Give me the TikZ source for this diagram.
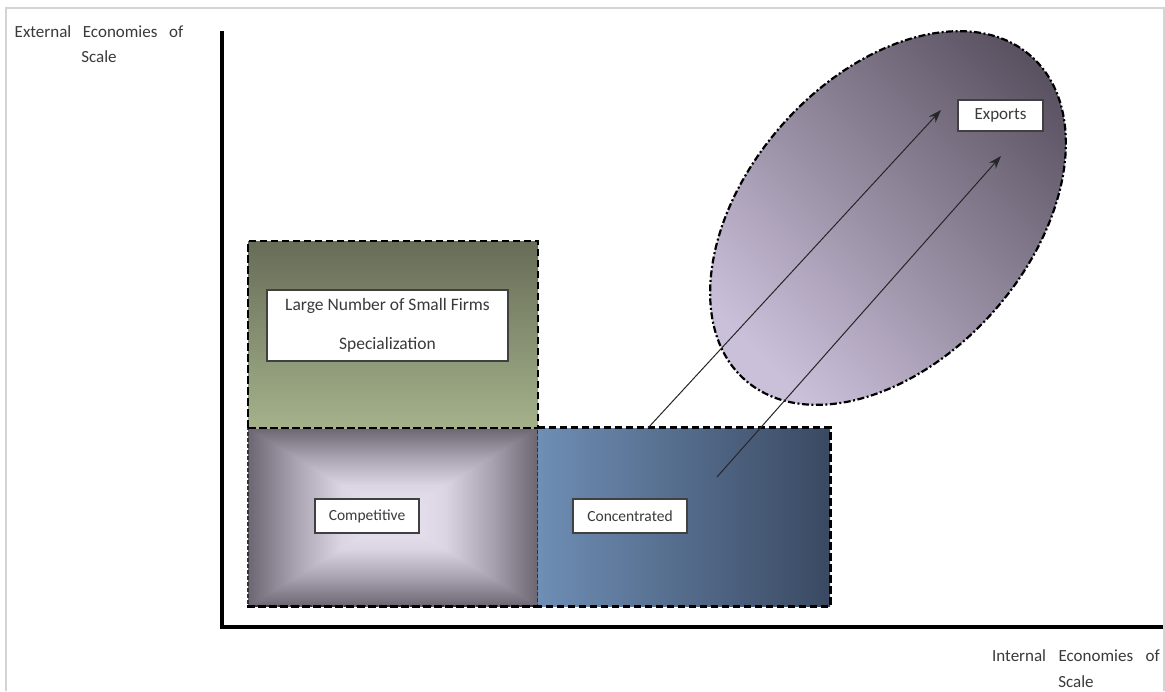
\documentclass[tikz,border=0pt]{standalone}
\usepackage{fontspec}
\setmainfont{Carlito}
\usetikzlibrary{arrows.meta,shapes.geometric}
\definecolor{framegray}{HTML}{D4D4D4}
\definecolor{gtop}{HTML}{676C57}
\definecolor{gbot}{HTML}{A4B28B}
\definecolor{cedge}{HTML}{6C6672}
\definecolor{cmid}{HTML}{A8A1B0}
\definecolor{clight}{HTML}{DAD4E3}
\definecolor{ccenter}{HTML}{EDE8F5}
\definecolor{conleft}{HTML}{6E8EB4}
\definecolor{conright}{HTML}{3A4962}
\definecolor{elight}{HTML}{CBC0DA}
\definecolor{edark}{HTML}{5A5261}
\definecolor{txt}{HTML}{3A3A3A}
\pgfdeclareverticalshading{compv}{100bp}{color(0bp)=(cedge); color(25bp)=(cedge); color(33bp)=(cmid); color(41bp)=(clight); color(50bp)=(ccenter); color(59bp)=(clight); color(67bp)=(cmid); color(75bp)=(cedge); color(100bp)=(cedge)}
\pgfdeclarehorizontalshading{comph}{100bp}{color(0bp)=(cedge); color(25bp)=(cedge); color(33bp)=(cmid); color(41bp)=(clight); color(50bp)=(ccenter); color(59bp)=(clight); color(67bp)=(cmid); color(75bp)=(cedge); color(100bp)=(cedge)}
\begin{document}
\begin{tikzpicture}[x=1pt,y=-1pt,
  zone/.style={draw=black, line width=2.8pt, dash pattern=on 7.5pt off 3.5pt},
  thinzone/.style={draw=black!80, line width=1.1pt, dash pattern=on 4pt off 2pt},
  tbox/.style={draw=black!75, fill=white, line width=1.1pt, inner sep=0pt, text=txt},
  arr/.style={draw=black!85, line width=1pt, -{Stealth[length=13pt,width=9pt]}},
  axis/.style={line width=3.6pt, line join=miter},
  axlabel/.style={align=center, text=txt, inner sep=0pt, anchor=base}
]
\fill[white] (0,0) rectangle (1165,691);
\useasboundingbox (0,0) rectangle (1165,691);
\draw[framegray, line width=1.2pt] (6,691) -- (6,8) -- (1164,8) -- (1164,691);

% Competitive zone: rectangular gradient
\coordinate (ctl) at (248,428);
\coordinate (ctr) at (538,428);
\coordinate (cbr) at (538,606);
\coordinate (cbl) at (248,606);
\coordinate (cc) at (393,517);
\shade[shading=compv] (ctl) rectangle (cbr);
\shade[shading=comph] (ctl) -- (cbl) -- (cc) -- cycle (ctr) -- (cbr) -- (cc) -- cycle;
\node[thinzone, minimum width=290, minimum height=178, inner sep=0pt] (comp) at (cc) {};
\draw[zone] (comp.south west) -- (comp.south east);

% Concentrated zone
\node[left color=conleft, right color=conright, minimum width=292, minimum height=178, inner sep=0pt] (conc) at (684,517) {};
\draw[zone] (conc.north west) -- (conc.north east) -- (conc.south east) -- (conc.south west);

% Upper-left zone
\node[zone, top color=gtop, bottom color=gbot, minimum width=290, minimum height=187, inner sep=0pt] (green) at (393,334.5) {};

% Exports ellipse
\node[ellipse, minimum width=432, minimum height=282, rotate=48.5,
      top color=edark, bottom color=elight, shading angle=-45, draw=black, line width=2.2pt,
      dash pattern=on 7pt off 2.5pt on 2pt off 2.5pt] (exp) at (888,218) {};

% Text boxes
\node[tbox, align=center, font=\fontsize{17.5}{39}\selectfont, minimum width=241, minimum height=71] (lnsf) at (387.5,325.5) {Large Number of Small Firms\\Specialization};
\node[tbox, font=\fontsize{15.5}{18}\selectfont, minimum width=104, minimum height=34] (competitive) at (367,516) {Competitive};
\node[tbox, font=\fontsize{15.5}{18}\selectfont, minimum width=114, minimum height=34] (concentrated) at (630,516) {Concentrated};
\node[tbox, font=\fontsize{17}{20}\selectfont, minimum width=85, minimum height=31] (exports) at (1000.5,115.5) {Exports};

% Arrows
\coordinate (a1s) at (648,428);
\coordinate (a1e) at (941,110);
\coordinate (a2s) at (717,477);
\coordinate (a2e) at (1001,156);
\draw[arr] (a1s) -- (a1e);
\draw[arr] (a2s) -- (a2e);

% Axes
\coordinate (ytop) at (222,31);
\coordinate (origin) at (222,627);
\coordinate (xend) at (1163,627);
\draw[axis] (ytop) -- (origin) -- (xend);

% Axis labels
\node[axlabel, font=\fontsize{17}{25}\selectfont] (ylab) at (99,62) {External\hspace{11.6pt}Economies\hspace{11.6pt}of\\Scale};
\node[axlabel, font=\fontsize{17}{26}\selectfont] (xlab) at (1076,687) {Internal\hspace{12.5pt}Economies\hspace{12.5pt}of\\Scale};
\end{tikzpicture}
\end{document}
